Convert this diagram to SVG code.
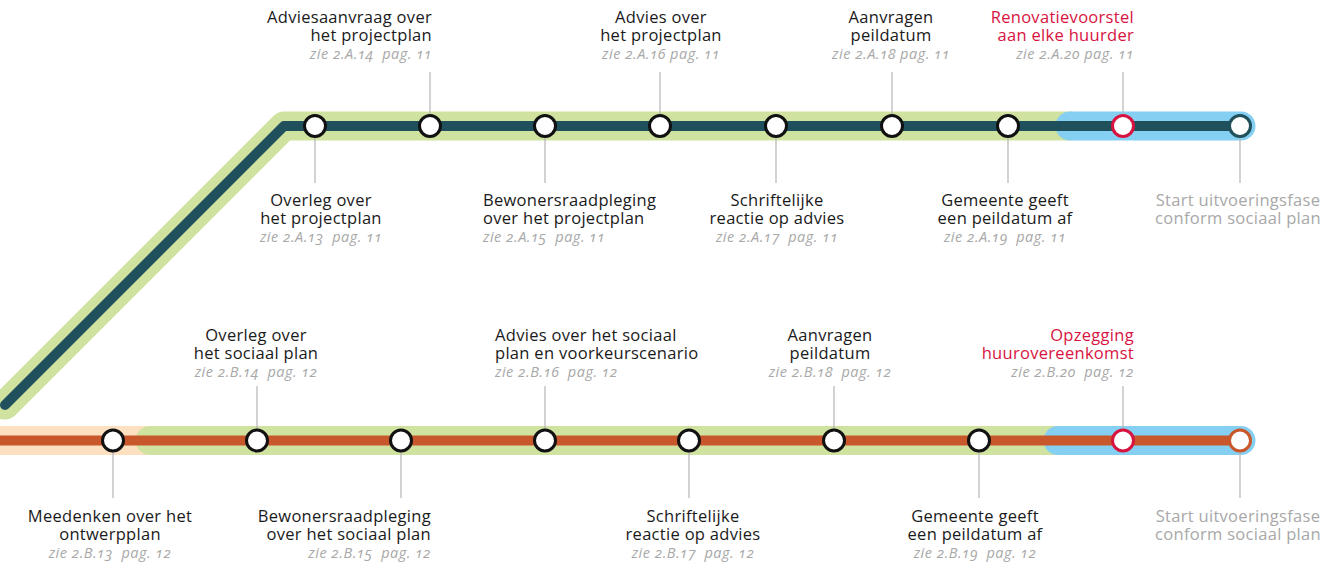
<svg xmlns="http://www.w3.org/2000/svg" width="1337" height="571" viewBox="0 0 1337 571">
<style>
.lbl{font-family:"Open Sans","Liberation Sans",sans-serif;font-size:16.5px;letter-spacing:0.3px;fill:#1a1a1a}
.red{fill:#d7143f}
.grey{fill:#a8a8a8}
.zie{font-family:"Open Sans","Liberation Sans",sans-serif;font-size:14.5px;letter-spacing:0.5px;font-style:italic;fill:#a8a8a8;font-variant-numeric:oldstyle-nums}
.nd{fill:#fff;stroke:#111;stroke-width:3}
.tick{stroke:#b5b5b5;stroke-width:1.2}
</style>
<rect width="1337" height="571" fill="#fff"/>
<g id="bands" fill="none" stroke-linecap="round" stroke-linejoin="round">
  <path d="M5 405 L284 126 L1070 126" stroke="#d0e2a0" stroke-width="29"/>
  <path d="M1070 126 L1241 126" stroke="#85d0f2" stroke-width="29"/>
  <rect x="0" y="426" width="160" height="29" fill="#fde0c0" stroke="none"/>
  <path d="M150 440.5 L1060 440.5" stroke="#d0e2a0" stroke-width="29"/>
  <path d="M1058 440.5 L1241 440.5" stroke="#85d0f2" stroke-width="29"/>
</g>
<g id="connectors" fill="none">
  <path d="M5 405 L284 126 L1240 126" stroke="#1f505b" stroke-width="10" stroke-linejoin="round" stroke-linecap="round"/>
  <path d="M0 440.5 L1240 440.5" stroke="#c8572c" stroke-width="10"/>
  <g class="tick">
    <line x1="430" y1="72" x2="430" y2="114"/>
    <line x1="660" y1="72" x2="660" y2="114"/>
    <line x1="892" y1="72" x2="892" y2="114"/>
    <line x1="1123" y1="72" x2="1123" y2="114"/>
    <line x1="315" y1="138" x2="315" y2="183"/>
    <line x1="545" y1="138" x2="545" y2="183"/>
    <line x1="776" y1="138" x2="776" y2="183"/>
    <line x1="1008" y1="138" x2="1008" y2="183"/>
    <line x1="1240" y1="138" x2="1240" y2="183"/>
    <line x1="257" y1="386" x2="257" y2="429"/>
    <line x1="545" y1="386" x2="545" y2="429"/>
    <line x1="834" y1="386" x2="834" y2="429"/>
    <line x1="1123" y1="386" x2="1123" y2="429"/>
    <line x1="113" y1="452" x2="113" y2="498"/>
    <line x1="401" y1="452" x2="401" y2="498"/>
    <line x1="689" y1="452" x2="689" y2="498"/>
    <line x1="979" y1="452" x2="979" y2="498"/>
    <line x1="1240" y1="452" x2="1240" y2="498"/>
  </g>
</g>
<!-- top row -->
<g id="a13"><circle class="nd" cx="315" cy="126" r="10.5"/>
  <text class="lbl" text-anchor="middle"><tspan x="321" y="206">Overleg over</tspan><tspan x="321" y="224">het projectplan</tspan></text>
  <text class="zie" text-anchor="middle" x="321" y="242" xml:space="preserve">zie 2.A.13  pag. 11</text></g>
<g id="a14"><circle class="nd" cx="430" cy="126" r="10.5"/>
  <text class="lbl" text-anchor="end"><tspan x="432" y="22.5">Adviesaanvraag over</tspan><tspan x="432" y="40.5">het projectplan</tspan></text>
  <text class="zie" text-anchor="end" x="432" y="58.5" xml:space="preserve">zie 2.A.14  pag. 11</text></g>
<g id="a15"><circle class="nd" cx="545" cy="126" r="10.5"/>
  <text class="lbl"><tspan x="483" y="206">Bewonersraadpleging</tspan><tspan x="483" y="224">over het projectplan</tspan></text>
  <text class="zie" x="483" y="242" xml:space="preserve">zie 2.A.15  pag. 11</text></g>
<g id="a16"><circle class="nd" cx="660" cy="126" r="10.5"/>
  <text class="lbl" text-anchor="middle"><tspan x="661" y="22.5">Advies over</tspan><tspan x="661" y="40.5">het projectplan</tspan></text>
  <text class="zie" text-anchor="middle" x="661" y="58.5">zie 2.A.16 pag. 11</text></g>
<g id="a17"><circle class="nd" cx="776" cy="126" r="10.5"/>
  <text class="lbl" text-anchor="middle"><tspan x="777" y="206">Schriftelijke</tspan><tspan x="777" y="224">reactie op advies</tspan></text>
  <text class="zie" text-anchor="middle" x="777" y="242" xml:space="preserve">zie 2.A.17  pag. 11</text></g>
<g id="a18"><circle class="nd" cx="892" cy="126" r="10.5"/>
  <text class="lbl" text-anchor="middle"><tspan x="891" y="22.5">Aanvragen</tspan><tspan x="891" y="40.5">peildatum</tspan></text>
  <text class="zie" text-anchor="middle" x="891" y="58.5">zie 2.A.18 pag. 11</text></g>
<g id="a19"><circle class="nd" cx="1008" cy="126" r="10.5"/>
  <text class="lbl" text-anchor="middle"><tspan x="1005" y="206">Gemeente geeft</tspan><tspan x="1005" y="224">een peildatum af</tspan></text>
  <text class="zie" text-anchor="middle" x="1005" y="242" xml:space="preserve">zie 2.A.19  pag. 11</text></g>
<g id="a20"><circle class="nd" cx="1123" cy="126" r="10.5" style="stroke:#d7143f"/>
  <text class="lbl red" text-anchor="end"><tspan x="1134" y="22.5">Renovatievoorstel</tspan><tspan x="1134" y="40.5">aan elke huurder</tspan></text>
  <text class="zie" text-anchor="end" x="1134" y="58.5">zie 2.A.20 pag. 11</text></g>
<g id="a-start"><circle class="nd" cx="1240" cy="126" r="10.5" style="stroke:#1f505b"/>
  <text class="lbl grey" text-anchor="middle"><tspan x="1238" y="206">Start uitvoeringsfase</tspan><tspan x="1238" y="224">conform sociaal plan</tspan></text></g>
<!-- bottom row -->
<g id="b13"><circle class="nd" cx="113" cy="440.5" r="10.5"/>
  <text class="lbl" text-anchor="middle"><tspan x="110" y="522">Meedenken over het</tspan><tspan x="110" y="540">ontwerpplan</tspan></text>
  <text class="zie" text-anchor="middle" x="110" y="558" xml:space="preserve">zie 2.B.13  pag. 12</text></g>
<g id="b14"><circle class="nd" cx="257" cy="440.5" r="10.5"/>
  <text class="lbl" text-anchor="middle"><tspan x="256" y="341">Overleg over</tspan><tspan x="256" y="359">het sociaal plan</tspan></text>
  <text class="zie" text-anchor="middle" x="256" y="377" xml:space="preserve">zie 2.B.14  pag. 12</text></g>
<g id="b15"><circle class="nd" cx="401" cy="440.5" r="10.5"/>
  <text class="lbl" text-anchor="end"><tspan x="431" y="522">Bewonersraadpleging</tspan><tspan x="431" y="540">over het sociaal plan</tspan></text>
  <text class="zie" text-anchor="end" x="431" y="558" xml:space="preserve">zie 2.B.15  pag. 12</text></g>
<g id="b16"><circle class="nd" cx="545" cy="440.5" r="10.5"/>
  <text class="lbl"><tspan x="495" y="341">Advies over het sociaal</tspan><tspan x="495" y="359">plan en voorkeurscenario</tspan></text>
  <text class="zie" x="495" y="377" xml:space="preserve">zie 2.B.16  pag. 12</text></g>
<g id="b17"><circle class="nd" cx="689" cy="440.5" r="10.5"/>
  <text class="lbl" text-anchor="middle"><tspan x="693" y="522">Schriftelijke</tspan><tspan x="693" y="540">reactie op advies</tspan></text>
  <text class="zie" text-anchor="middle" x="693" y="558" xml:space="preserve">zie 2.B.17  pag. 12</text></g>
<g id="b18"><circle class="nd" cx="834" cy="440.5" r="10.5"/>
  <text class="lbl" text-anchor="middle"><tspan x="830" y="341">Aanvragen</tspan><tspan x="830" y="359">peildatum</tspan></text>
  <text class="zie" text-anchor="middle" x="830" y="377" xml:space="preserve">zie 2.B.18  pag. 12</text></g>
<g id="b19"><circle class="nd" cx="979" cy="440.5" r="10.5"/>
  <text class="lbl" text-anchor="middle"><tspan x="975" y="522">Gemeente geeft</tspan><tspan x="975" y="540">een peildatum af</tspan></text>
  <text class="zie" text-anchor="middle" x="975" y="558" xml:space="preserve">zie 2.B.19  pag. 12</text></g>
<g id="b20"><circle class="nd" cx="1123" cy="440.5" r="10.5" style="stroke:#d7143f"/>
  <text class="lbl red" text-anchor="end"><tspan x="1134" y="341">Opzegging</tspan><tspan x="1134" y="359">huurovereenkomst</tspan></text>
  <text class="zie" text-anchor="end" x="1134" y="377" xml:space="preserve">zie 2.B.20  pag. 12</text></g>
<g id="b-start"><circle class="nd" cx="1240" cy="440.5" r="10.5" style="stroke:#c8572c"/>
  <text class="lbl grey" text-anchor="middle"><tspan x="1238" y="522">Start uitvoeringsfase</tspan><tspan x="1238" y="540">conform sociaal plan</tspan></text></g>
</svg>
